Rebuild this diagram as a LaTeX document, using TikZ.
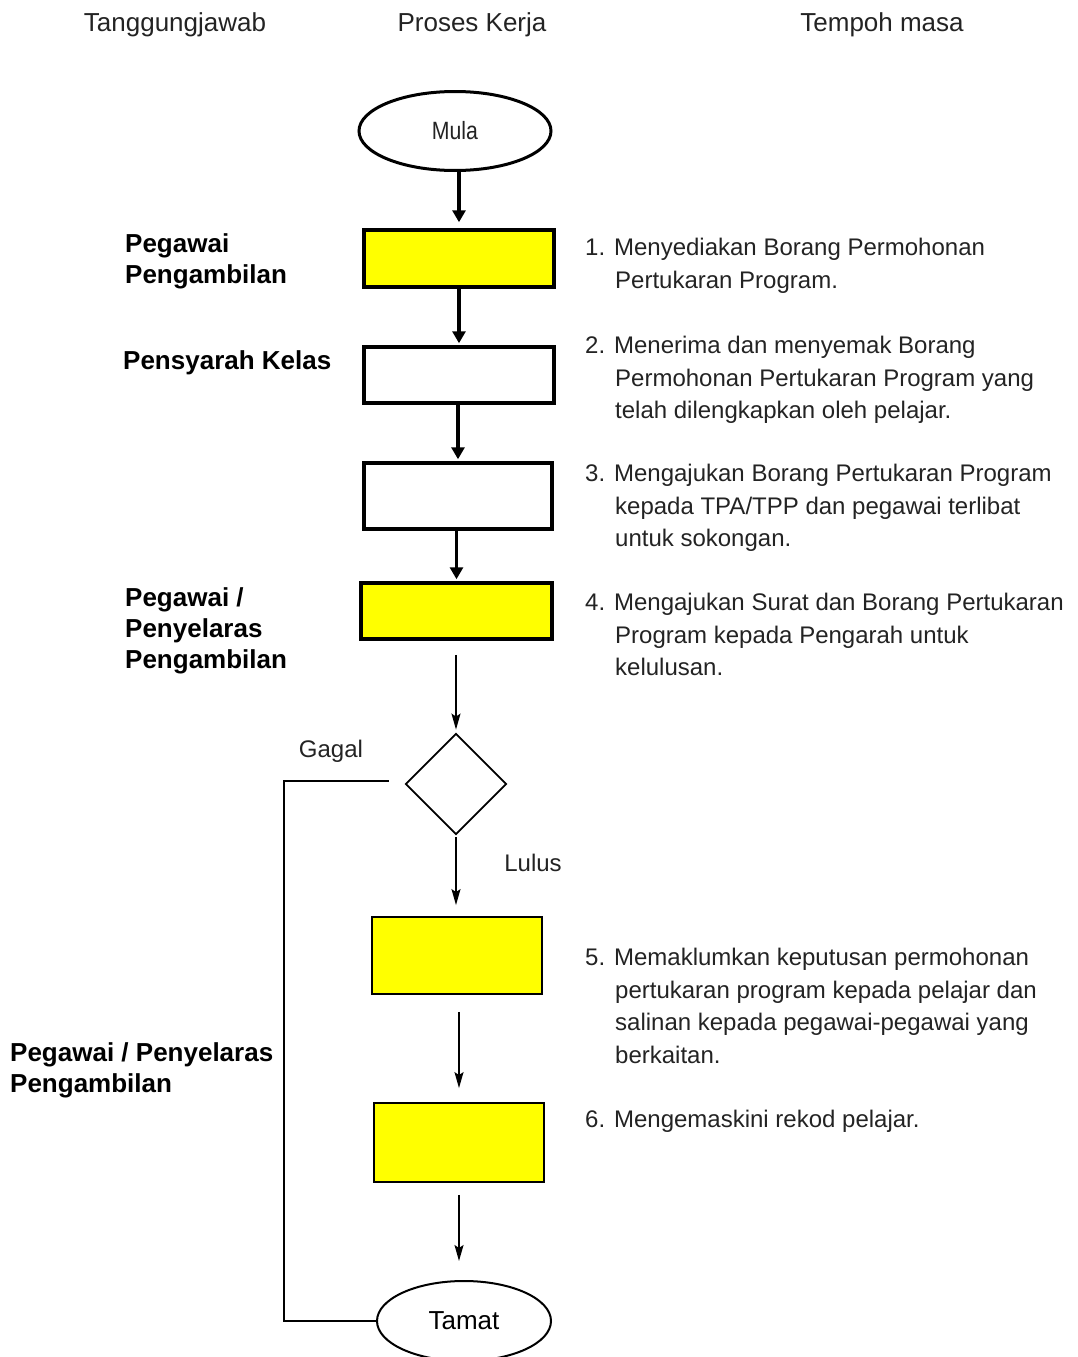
\documentclass[tikz,border=0pt]{standalone}
\usepackage{graphicx}
\usepackage{fontspec}
\setmainfont{Liberation Sans}
\usetikzlibrary{arrows.meta,shapes.geometric}

\definecolor{boxyellow}{RGB}{255,255,0}
\definecolor{inkgrey}{RGB}{35,35,35}

% indent for the follow-on lines of a step
\newcommand{\stepind}{\hspace*{30pt}}

\begin{document}
\begin{tikzpicture}[x=1pt, y=-1pt,
    every node/.style={inner sep=0pt, text=inkgrey},
    colhead/.style={font=\fontsize{26}{31}\selectfont, anchor=base},
    who/.style={font=\fontsize{26}{31}\selectfont\bfseries, text=black, align=left, anchor=north west},
    desc/.style={font=\fontsize{24}{32.5}\selectfont, align=left, anchor=north west},
    branch/.style={font=\fontsize{24}{29}\selectfont, anchor=base},
    term/.style={ellipse, draw=black, fill=white},
    proc/.style={rectangle, draw=black, line width=3.5pt},
    procthin/.style={rectangle, draw=black, line width=1.8pt, fill=boxyellow},
    flow/.style={-{Triangle[length=12pt,width=13pt]}, line width=3.5pt},
    thinflow/.style={-{Stealth[length=16pt,width=9pt,inset=3pt]}, line width=1.8pt}]
    \useasboundingbox (0,0) rectangle (1078,1357);

    % column headings
    \node[colhead] (hwho)  at (175,31) {Tanggungjawab};
    \node[colhead] (hproc) at (472,31) {Proses Kerja};
    \node[colhead] (htime) at (882,31) {Tempoh masa};

    % flow column
    \node[term, line width=3pt, minimum width=192, minimum height=79,
          font=\fontsize{25}{29}\selectfont] (mula) at (455,131) {\scalebox{0.85}[1]{Mula}};
    \node[proc, fill=boxyellow, minimum width=190, minimum height=57] (b1) at (459,258.5) {};
    \node[proc, minimum width=190, minimum height=56] (b2) at (459,375) {};
    \node[proc, minimum width=188, minimum height=66] (b3) at (458,496) {};
    \node[proc, fill=boxyellow, minimum width=191, minimum height=56] (b4) at (456.5,611) {};
    \node[diamond, draw=black, line width=1.8pt, minimum width=101, minimum height=101] (dec) at (456,784) {};
    \node[procthin, minimum width=170, minimum height=77] (b5) at (457,955.5) {};
    \node[procthin, minimum width=170, minimum height=79] (b6) at (459,1142.5) {};
    \node[term, line width=2pt, minimum width=174, minimum height=80, text=black,
          font=\fontsize{26}{31}\selectfont] (tamat) at (464,1321) {Tamat};

    % arrows
    \draw[flow, shorten >=6pt] (b1 |- mula.south) -- (b1.north);
    \draw[flow, shorten >=2pt] (b1.south) -- (b2.north);
    \draw[flow, shorten >=2pt] (b2.south -| b3) -- (b3.north);
    \draw[flow, shorten >=2pt] (b3.south -| b4) -- (b4.north);
    \draw[thinflow, shorten <=14pt, shorten >=3pt] (b4.south -| dec) -- (dec.north);
    \draw[thinflow, shorten <=2pt, shorten >=11pt] (dec.south) -- (dec.south |- b5.north);
    \draw[thinflow, shorten <=17pt, shorten >=14pt] (b5.south -| b6) -- (b6.north);
    \draw[thinflow, shorten <=12pt, shorten >=19pt] (b6.south) -- (b6.south |- tamat.north);

    % back to the end when it fails
    \coordinate (back) at (284,0);
    \draw[line width=1.8pt, shorten <=16pt] ([yshift=3pt]dec.west) -| (back |- tamat.west) -- (tamat.west);
    \node[branch] (gagal) at (331,757) {Gagal};
    \node[branch] (lulus) at (533,871) {Lulus};

    % who does it
    \node[who] (w1) at (125,233) {Pegawai\\Pengambilan};
    \node[who] (w2) at (123,350) {Pensyarah Kelas};
    \node[who] (w3) at (125,587) {Pegawai /\\Penyelaras\\Pengambilan};
    \node[who] (w4) at (10,1042) {Pegawai / Penyelaras\\Pengambilan};

    % steps
    \node[desc] (d1) at (585,238) {1. Menyediakan Borang Permohonan\\
        \stepind Pertukaran Program.};
    \node[desc] (d2) at (585,336) {2. Menerima dan menyemak Borang\\
        \stepind Permohonan Pertukaran Program yang\\
        \stepind telah dilengkapkan oleh pelajar.};
    \node[desc] (d3) at (585,464) {3. Mengajukan Borang Pertukaran Program\\
        \stepind kepada TPA/TPP dan pegawai terlibat\\
        \stepind untuk sokongan.};
    \node[desc] (d4) at (585,593) {4. Mengajukan Surat dan Borang Pertukaran\\
        \stepind Program kepada Pengarah untuk\\
        \stepind kelulusan.};
    \node[desc] (d5) at (585,948) {5. Memaklumkan keputusan permohonan\\
        \stepind pertukaran program kepada pelajar dan\\
        \stepind salinan kepada pegawai-pegawai yang\\
        \stepind berkaitan.};
    \node[desc] (d6) at (585,1110) {6. Mengemaskini rekod pelajar.};
\end{tikzpicture}
\end{document}
